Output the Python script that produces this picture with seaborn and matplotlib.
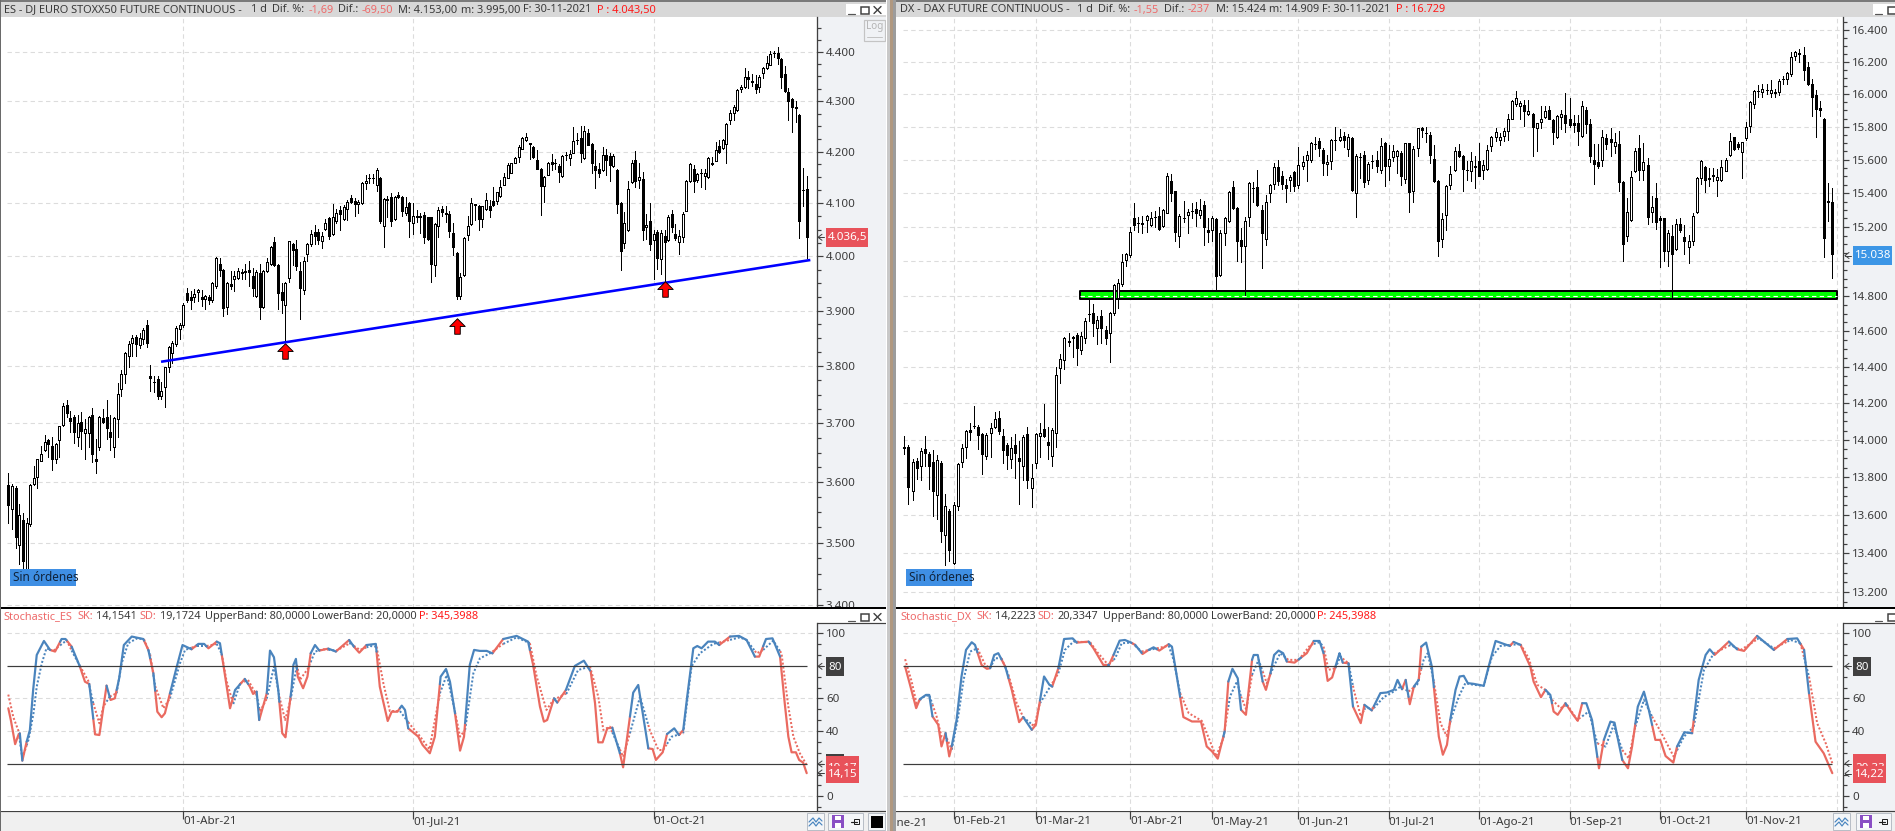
import numpy as np
import pandas as pd
import matplotlib
matplotlib.use("Agg")
import matplotlib.pyplot as plt
import seaborn as sns
from matplotlib.lines import Line2D
from matplotlib.patches import Rectangle
from matplotlib.path import Path
from matplotlib.ticker import FixedLocator, NullFormatter, FuncFormatter

# ---------------------------------------------------------------- price data
es_open = [3596,3556,3590,3496,3538,3455,3530,3597,3608,3636,3654,3672,3662,3639,3671,3698,3732,3709,3712,3677,
           3703,3683,3683,3714,3639,3659,3710,3711,3685,3659,3707,3760,3787,3819,3841,3852,3838,3849,3873,3783,
           3773,3777,3747,3763,3798,3824,3839,3866,3873,3932,3925,3925,3934,3925,3921,3925,3920,3945,3985,3975,
           3906,3948,3957,3959,3969,3971,3974,3964,3927,3969,3907,3972,3986,4026,3983,3934,3911,3959,4023,4013,
           3972,3938,4004,4022,4045,4045,4029,4051,4072,4042,4067,4088,4071,4090,4110,4104,4098,4100,4138,4148,
           4149,4136,4148,4056,4108,4112,4070,4116,4112,4081,4100,4062,4075,4075,4077,4073,4073,3984,4056,4090,
           4081,4080,4044,4006,3927,3965,4040,4061,4098,4095,4070,4090,4094,4104,4105,4113,4136,4149,4159,4178,
           4189,4206,4222,4216,4209,4184,4167,4133,4155,4180,4178,4171,4152,4194,4188,4198,4223,4226,4188,4236,
           4215,4172,4167,4164,4193,4191,4171,4164,4101,4025,4049,4140,4184,4145,4146,4054,4066,4031,4045,3994,
           4038,4031,4079,4041,4026,4037,4086,4142,4166,4145,4159,4152,4151,4177,4182,4211,4208,4215,4262,4277,
           4282,4324,4329,4349,4340,4335,4329,4356,4367,4374,4398,4398,4386,4354,4319,4304,4288,4273,4126,4127]
es_high = [3615,3597,3593,3564,3549,3541,3597,3627,3640,3661,3680,3673,3676,3666,3696,3735,3741,3722,3715,3714,
           3720,3707,3713,3727,3673,3713,3725,3741,3715,3711,3771,3794,3825,3845,3856,3856,3860,3869,3882,3802,
           3782,3783,3773,3799,3836,3845,3872,3877,3914,3942,3936,3940,3939,3938,3929,3929,3952,3999,3996,3976,
           3952,3973,3973,3979,3976,3985,3992,3978,3974,3985,3975,3996,4020,4036,3985,3951,3952,4029,4025,4031,
           3990,3999,4024,4049,4058,4051,4046,4071,4074,4099,4090,4095,4096,4106,4116,4110,4106,4141,4154,4157,
           4157,4168,4150,4110,4113,4120,4114,4122,4114,4112,4103,4100,4087,4081,4084,4074,4074,4062,4092,4095,
           4094,4085,4063,4007,3968,4036,4075,4110,4099,4096,4095,4120,4106,4132,4122,4145,4159,4177,4178,4189,
           4212,4229,4236,4217,4211,4203,4168,4153,4179,4196,4185,4176,4194,4199,4203,4248,4236,4251,4251,4244,
           4216,4203,4177,4209,4206,4198,4195,4166,4103,4083,4143,4184,4201,4177,4161,4079,4100,4049,4049,4049,
           4049,4077,4088,4060,4049,4083,4145,4178,4174,4158,4167,4167,4189,4189,4218,4222,4224,4256,4282,4292,
           4324,4332,4366,4360,4354,4352,4352,4368,4391,4401,4401,4410,4388,4370,4327,4306,4300,4274,4168,4153]
es_low = [3532,3523,3492,3466,3459,3450,3527,3596,3591,3635,3652,3643,3621,3632,3643,3696,3712,3686,3667,3661,
          3656,3639,3660,3634,3616,3655,3700,3674,3655,3643,3677,3747,3770,3799,3819,3819,3833,3839,3835,3757,
          3754,3743,3742,3729,3789,3805,3836,3849,3871,3915,3902,3915,3918,3908,3902,3912,3915,3942,3963,3890,
          3893,3939,3936,3957,3957,3957,3944,3927,3924,3884,3905,3970,3984,3981,3902,3896,3843,3953,3984,3975,
          3884,3930,3991,4019,4022,4023,4016,4049,4033,4039,4062,4049,4069,4069,4100,4076,4081,4099,4127,4139,
          4138,4123,4062,4017,4074,4057,4069,4110,4075,4078,4036,4041,4065,4044,4025,4031,3952,3963,4036,4075,
          4064,4037,4003,3921,3921,3963,4031,4059,4068,4049,4054,4088,4074,4095,4099,4112,4135,4148,4158,4177,
          4179,4205,4220,4186,4188,4166,4078,4103,4154,4164,4167,4140,4151,4183,4173,4197,4215,4179,4186,4212,
          4158,4130,4150,4162,4154,4143,4169,4082,3974,4015,4047,4138,4131,4130,4031,4032,4012,3958,3977,3967,
          3950,4029,4045,4030,4004,4027,4085,4140,4121,4141,4132,4127,4149,4174,4181,4198,4206,4177,4254,4263,
          4281,4318,4327,4327,4331,4316,4319,4346,4365,4373,4390,4376,4327,4319,4263,4238,4258,4034,4094,3996]
es_close = [3562,3594,3509,3545,3470,3533,3596,3607,3639,3647,3668,3665,3639,3665,3696,3731,3718,3705,3686,3700,
            3687,3690,3711,3647,3635,3711,3703,3692,3676,3709,3751,3787,3824,3839,3850,3839,3851,3865,3842,3780,
            3772,3748,3757,3798,3834,3841,3869,3873,3911,3920,3920,3930,3938,3921,3927,3920,3951,3996,3974,3905,
            3950,3945,3964,3973,3970,3972,3971,3942,3970,3907,3973,3990,4018,3984,3932,3919,3951,4028,4011,3981,
            3942,3992,4023,4042,4038,4031,4038,4063,4038,4073,4081,4080,4092,4102,4103,4098,4102,4138,4143,4149,
            4148,4164,4066,4109,4107,4067,4112,4112,4086,4092,4066,4076,4074,4074,4036,4032,3985,4060,4088,4084,
            4080,4047,4017,3927,3961,4035,4057,4100,4097,4070,4094,4106,4088,4097,4121,4132,4151,4174,4177,4188,
            4209,4227,4228,4215,4189,4167,4133,4150,4177,4176,4178,4161,4192,4193,4195,4221,4222,4197,4241,4213,
            4178,4164,4158,4193,4183,4174,4191,4098,4009,4062,4127,4177,4142,4150,4049,4059,4023,4041,3996,4044,
            4027,4074,4054,4035,4038,4079,4143,4176,4143,4156,4158,4159,4187,4176,4204,4199,4223,4255,4277,4289,
            4323,4329,4349,4344,4339,4324,4349,4366,4378,4396,4397,4387,4349,4320,4300,4289,4287,4067,4125,4037]

dx_open = [13960,13962,13725,13885,13860,13950,13925,13880,13705,13875,13495,13620,13350,13645,13880,13960,14055,14076,14070,14030,
           13915,14040,14070,14120,14022,13970,13895,13970,13905,13860,14030,13740,13875,14020,14060,13990,13915,14040,14395,14440,
           14545,14570,14580,14495,14560,14696,14705,14620,14685,14605,14590,14705,14790,14870,15005,15035,15250,15226,15221,15240,
           15210,15261,15265,15205,15285,15475,15412,15150,15251,15270,15296,15305,15270,15330,15185,15185,15245,14920,15165,15235,
           15435,15310,15125,15090,15260,15431,15435,15300,15130,15400,15455,15555,15500,15450,15480,15525,15450,15560,15600,15600,
           15696,15715,15660,15575,15595,15721,15720,15745,15665,15730,15400,15616,15630,15480,15591,15600,15540,15700,15560,15615,
           15625,15640,15485,15700,15410,15670,15790,15763,15750,15605,15475,15130,15270,15450,15540,15655,15625,15541,15530,15565,
           15595,15540,15545,15680,15735,15720,15745,15775,15850,15940,15925,15935,15880,15880,15790,15830,15860,15905,15840,15740,
           15860,15870,15850,15820,15820,15745,15900,15815,15600,15585,15600,15730,15725,15685,15695,15465,15150,15240,15530,15670,
           15540,15570,15290,15370,15250,15250,15060,15150,15070,15215,15140,15080,15120,15290,15490,15555,15490,15506,15480,15480,
           15535,15630,15735,15695,15645,15730,15805,15940,16021,16015,16026,16010,16015,16015,16096,16095,16125,16235,16255,16245,
           16170,16065,15995,15915,15850,15351,15350]
dx_high = [14022,13975,13895,13900,13955,14020,13935,13945,13920,13885,13710,13630,13670,13875,13980,14055,14090,14185,14080,14040,
           14035,14090,14150,14155,14060,13985,14015,14030,13995,14025,14070,13870,14040,14090,14195,14070,14065,14400,14470,14565,
           14590,14575,14590,14595,14675,14775,14755,14685,14720,14630,14710,14870,14895,15040,15050,15200,15340,15260,15265,15270,
           15290,15295,15320,15305,15520,15515,15415,15275,15355,15305,15340,15345,15365,15355,15250,15265,15250,15180,15260,15415,
           15470,15315,15195,15260,15465,15465,15540,15330,15390,15455,15580,15600,15530,15485,15510,15530,15675,15620,15650,15705,
           15735,15730,15670,15630,15725,15800,15785,15765,15755,15735,15635,15640,15650,15585,15630,15655,15730,15705,15690,15690,
           15660,15650,15702,15702,15680,15795,15800,15800,15770,15690,15477,15280,15450,15565,15675,15695,15630,15595,15645,15625,
           15700,15600,15690,15745,15790,15760,15790,15875,15965,16020,15955,15965,15965,15885,15825,15930,15930,15930,15850,15870,
           15900,16010,15975,15870,15870,15955,15920,15845,15695,15695,15780,15755,15795,15760,15775,15470,15370,15530,15670,15750,
           15700,15610,15380,15460,15265,15255,15185,15210,15245,15255,15210,15155,15285,15495,15600,15560,15550,15550,15545,15600,
           15610,15760,15740,15705,15710,15830,15955,16025,16055,16060,16060,16090,16035,16095,16115,16135,16260,16270,16280,16295,
           16200,16095,16025,15955,15855,15460,15430]
dx_low = [13925,13660,13680,13790,13785,13860,13735,13595,13580,13460,13340,13360,13345,13625,13855,13900,14000,14062,13950,13815,
          13895,13910,14062,14030,13875,13845,13850,13795,13660,13785,13740,13640,13850,13910,14015,13895,13860,13960,14310,14390,
          14515,14455,14410,14475,14535,14660,14575,14530,14535,14530,14430,14690,14730,14860,14970,15025,15180,15170,15165,15170,
          15205,15200,15185,15200,15280,15355,15120,15085,15230,15165,15255,15205,15250,15095,15110,15120,14835,14915,15095,15230,
          15305,15000,14997,14805,15205,15350,15325,14960,15095,15350,15425,15450,15425,15350,15415,15415,15430,15545,15470,15585,
          15665,15620,15510,15510,15545,15660,15715,15675,15620,15410,15260,15490,15435,15455,15550,15525,15520,15445,15480,15590,
          15520,15450,15460,15290,15345,15620,15740,15705,15580,15465,15030,15080,15185,15425,15530,15615,15410,15480,15470,15430,
          15500,15485,15540,15655,15715,15690,15715,15720,15845,15925,15845,15805,15870,15625,15655,15795,15855,15845,15695,15730,
          15785,15765,15800,15770,15690,15740,15760,15585,15455,15550,15560,15665,15620,15640,15410,15000,15115,15235,15525,15480,
          15480,15215,15230,15190,14965,15000,14975,14790,15065,15170,15040,14990,15095,15285,15455,15405,15440,15470,15385,15470,
          15530,15620,15660,15665,15490,15720,15770,15915,15985,15985,16000,15985,15985,15995,16060,16060,16115,16210,16200,16090,
          16055,15865,15740,15865,15025,15235,14905]
dx_close = [13955,13750,13880,13850,13940,13930,13860,13725,13890,13515,13645,13415,13650,13870,13955,14050,14045,14075,14025,13925,
            14025,14065,14115,14050,13945,13920,13955,13930,13885,14015,13785,13795,14030,14035,14020,13975,14055,14355,14445,14560,
            14540,14560,14505,14575,14660,14695,14645,14665,14620,14560,14705,14866,14875,14995,15040,15170,15210,15225,15220,15265,
            15250,15260,15190,15300,15505,15400,15170,15265,15250,15290,15295,15285,15300,15200,15170,15255,14915,15165,15255,15405,
            15310,15115,15090,15235,15460,15430,15330,15165,15350,15450,15555,15475,15455,15428,15495,15440,15570,15585,15630,15700,
            15695,15670,15580,15585,15720,15720,15735,15720,15735,15420,15620,15615,15465,15575,15590,15560,15680,15565,15605,15650,
            15650,15500,15700,15405,15665,15790,15782,15762,15630,15475,15120,15245,15445,15515,15650,15620,15545,15540,15595,15555,
            15505,15570,15660,15735,15765,15735,15775,15845,15955,15975,15945,15895,15895,15800,15820,15850,15895,15850,15765,15865,
            15875,15825,15810,15810,15775,15930,15815,15620,15575,15565,15735,15695,15705,15710,15465,15100,15290,15495,15650,15540,
            15585,15260,15320,15230,15240,15060,15165,15045,15215,15185,15120,15120,15265,15490,15595,15480,15485,15505,15495,15555,
            15600,15715,15665,15675,15705,15800,15950,16020,16020,16035,16025,16025,16005,16080,16095,16130,16230,16265,16250,16150,
            16065,15980,15910,15905,15135,15350,15040]

# ---------------------------------------------------------- stochastic readings
es_sk_bar = [0,0.7,1.9,2.8,3.2,3.9,5.1,6,6.9,7.9,9.9,11.6,13,14.8,15.9,17.6,19.9,21.3,22.5,24.1,25.3,27.3,28.4,29.6,30.8,32.1,
             34.3,37.5,38.9,40.3,41.4,42.6,43.5,46.8,48.4,50.9,52.8,54.4,55.6,57.9,58.8,59.9,61.6,63,65.7,67.1,68,69,69.7,71.8,
             72.7,73.8,75,76.1,77,78.7,79.2,79.9,80.4,81.9,83.1,84,85.2,86.4,88.9,91,94.7,96,97.5,99.5,102.1,103.2,105.4,106.5,
             108.1,109.3,110.2,111.1,113.9,115.1,117.1,118.5,120.1,121.6,122.7,124.1,125.5,126.6,128.2,129.4,131,132.9,134.5,
             137.5,141.2,144.4,145.8,147.7,148.8,149.7,151.6,152.5,154.9,157.4,159.9,161.8,163,163.9,165.1,166.4,167.8,169.9,
             170.8,173.6,175,177.8,179,179.9,181.8,183,185,186.3,187.5,188.6,190.3,191.4,192.6,194.4,196.3,197.5,200.5,203,
             205.1,207.4,208.6,210.5,212.3,214.4,215.7,216.7,217.6,218.8,219.7,220.8,221.8]
es_sk_val = [54,46.8,32,37.6,38.6,21.9,33.5,40.7,65.2,86.7,95.3,89.8,88.8,96.5,96.5,91.8,79.5,70.3,68.9,38,37.6,67.9,59.1,60.1,72.4,92.8,
             98,96.5,89.8,75.5,51.9,48.5,50.9,79.5,92.8,90.2,93.5,93.5,90.8,94.9,93.9,78.5,54,65.2,72,67.3,62.8,64.2,46.8,63.2,
             89.4,85.3,65.2,38.7,36.2,66.3,80.6,84.3,73.4,66.3,73.4,87.7,92.8,89.4,90.6,88.8,95.9,91.8,88.1,92.8,93.5,67.3,46.2,51.9,
             51.9,55.6,53,41.7,36.6,31.5,26.4,36.6,73.4,78.1,70.3,50.9,28,36.6,80.6,89.8,89.2,89.2,87.7,
             96.5,98.4,94.9,80.6,55,45.8,46.8,60.1,57.5,65.2,80,83.2,76.5,57.1,33.1,33.1,41.7,42.1,26.4,
             17.8,63.6,68.3,29.4,29,22.3,27,38.2,41.7,37.6,40.7,61.1,90.8,92.2,90.8,94.9,94.9,92.8,98,98.4,
             95.9,85.7,85.7,96.5,96.9,85.7,57.1,36.6,27,27,22.3,20.7,14.2]
es_sd_bar = [0,1.4,2.8,3.9,5.6,7,7.9,9.3,10.6,12.5,14.4,16.2,18,20.4,22.2,23.6,25.3,26.4,28.2,30.1,31.5,33.3,35.7,37.7,39.4,40.8,43.1,
             44.9,47.7,49.1,52.3,55.1,57.9,59.3,60.6,62.5,64.4,66.6,69,69.9,71.8,73.8,75.3,76.9,78.4,80.2,81,83.3,85.2,87.5,91.2,
             94.9,97.7,100.5,102.3,104.2,106,108.8,111.5,114.3,117,119.9,121.8,123.6,125.5,126.9,129.2,131,133.8,137.5,141.2,
             144.9,146.8,149.5,151.4,155.1,158.3,161.6,163.9,165.3,167.1,170.8,172.7,175.5,178.2,180.6,181.9,184.3,187.5,189.8,
             192.1,195.8,198.6,203.2,205.1,207.9,209.7,212.5,214.8,216.7,218.1,219.9,221.8]
es_sd_val = [62.4,48.5,40.3,23.3,34.6,50.9,67.3,81.6,90.8,89.2,92.6,95.7,87.7,78,70.9,57.1,44.8,55,61.2,63.2,81.6,93.9,96.8,96.4,87,67.6,54,
             60.1,81.6,89.8,92.2,92.2,93.5,87.3,71,56.6,69.3,71.4,62,51.9,59.9,79.6,61.1,46.8,59.1,80.6,71.4,78.5,88.8,90.2,89.4,
             93.9,89.8,92.2,91.8,69.3,52.3,52.3,44.3,37,28.8,63.2,74.4,57.1,36.6,40.7,75.5,84.6,87.7,93.5,97.5,
             93.9,73.4,53,59.1,63.2,77.5,79.6,61.1,40.7,42.7,24.3,38.7,61.1,40.7,28.4,28.4,36.6,38.7,79.6,
             87.7,93.5,94.9,97.5,95.9,87.7,89.8,95.5,87.7,55,36.6,26.4,19.2]

dx_sk_bar = [0.2,1.4,2.9,3.8,5.3,6.1,6.9,8.3,9.1,10.1,11,11.6,12.8,14,15.1,16.5,17.3,18.9,20.2,21,22,23,24.7,26.3,28.1,29.1,31.2,32.2,
             34.2,35.5,36.2,37.7,39.1,41.2,42.2,45.1,46.3,48.7,50.1,51.2,52.7,54,55.3,56.5,58.3,59.8,61,62.4,64.7,65.5,66.5,68.3,
             70.4,72.6,74,75.3,76.7,78.4,79.3,80.3,81.6,82.4,83.6,85.1,85.5,86.5,87.7,88.5,89.6,90.5,91.6,92.7,93.6,95.5,97.1,98.5,
             100.2,101.6,102.6,103.6,104.7,106.5,107.3,108.7,109.8,111.7,112.6,114.4,116.5,118.1,119.8,120.7,121.8,122.7,123.7,
             124.7,125.9,126.5,127.7,129.1,130.8,131.8,132.8,133.6,134.9,135.9,136.9,137.9,139.3,141.8,143,144.7,146.7,148.2,
             149.1,150.8,153.2,154,155.8,156.9,158.1,158.9,159.9,161.8,163.4,164.8,165.9,166.9,168.3,170,171.2,172.8,173.8,175.7,
             177.1,178.1,179.5,181,182.2,183.8,185,186.3,188.2,189.1,190.9,192.8,194.4,196.1,197.1,198.3,201.8,203.8,205.5,208.7,
             212.8,216.1,218.5,220.2,221.4,223,225,227.1]
dx_sk_val = [79.6,68.4,54.1,59.6,62.2,62.2,49,43.9,30.6,38.8,24.5,30.6,46.9,73.5,89.8,94.5,92.9,80.6,78.2,78.6,86.7,87.8,79.6,65.3,45.5,48.6,40.8,43.9,
             73.5,68.4,67.3,78.6,96.5,96.9,94.3,94.9,90.8,80.6,80.6,86.7,95.5,95.9,94.5,92.9,87.3,89.8,91.4,89.4,93.3,91.8,76.5,48.6,
             45.9,45.9,30.6,27.6,23.1,39.8,70.4,78.2,72.4,53.1,50,83.7,86.7,86.7,70.4,65.3,75.5,86.7,89.4,87.8,82.7,82,85.1,87.8,
             95.3,95.3,87.8,70.8,72.9,87.8,82,81.6,55.1,44.9,56.1,52.7,63.3,63.7,65.3,71.4,65.7,71.4,56.5,
             67.3,71.4,91.8,94.3,79.6,36.7,25.5,31.6,46.9,65.3,73.5,73.9,69.4,69,67.8,79.6,95.3,93.5,92.2,
             94.7,92.9,79.6,70.4,60.8,65.3,62.2,52,50,57.1,51,46.3,57.1,57.1,46.8,17.2,34.6,45.8,45.2,22.3,
             17.2,30.5,55,64.2,53,34.6,34.6,24.7,20.7,30.5,39.3,38.7,71.4,86.7,90.2,86.7,94.9,90.2,89.2,98.4,
             89.8,96.5,96.9,89.8,63.2,33.5,26.4,14.2]
dx_sd_bar = [0.2,1.8,3,4.6,6.1,7.9,9.1,10.4,11.6,13.2,14.5,16.1,17.9,19.8,21,22.2,23.8,25.5,27.5,29.1,31.8,33.2,35.7,37.7,39.3,41.4,45.5,47.1,
             49.9,51.6,53.2,55.6,58.1,61.8,64.7,65.9,67.5,69.6,72.8,74.5,76.3,78.1,79.7,81.4,82.4,83.7,85.1,86.7,88,88.7,90.4,92,94,
             96.5,99.4,101.6,102.6,103.8,105.5,106.7,108.7,110,111.7,112.8,114.9,117.3,119.8,121.4,123.4,125.5,127.1,128.1,129.6,
             131.2,132.7,134,135.7,137.3,139.3,141.8,143.8,145.9,148.3,150.8,152.8,154.9,156.9,158.5,160.6,162.2,164.7,167.5,169.6,
             171.6,173.6,175.7,177.3,178.9,181,183,185.1,188.3,190.8,193.2,195.7,198.1,202.2,204.7,209.1,212.8,216.9,219.3,221.4,
             223.4,225.5,227.1]
dx_sd_val = [84.1,70.4,57.1,60.8,62.2,49,36.7,35.7,28.6,49,71.4,88.8,90.8,80.6,78.6,84.7,84.7,74.5,57.1,48.6,42.9,57.1,67.3,75.5,89.8,94.9,94.5,88.8,
             80.6,84.7,93.9,94.3,88.8,90.8,92.4,83.7,63.3,51,46.3,35.7,24.5,35.7,61.2,70.4,61.2,53.1,74.5,83.7,74.5,69.4,79.6,87.8,83.7,
             83.7,92.9,94.5,91.8,77.6,78.6,85.7,81.6,65.3,49,54.1,54.1,60.8,64.3,67.3,64.3,68.4,83.7,87.8,70.4,
             44.9,37.1,48.9,61.2,69.4,68.4,67.8,85.7,92.2,92.9,93.3,84.7,68.4,65.3,59.2,54.1,56.1,46.9,52,32.5,
             30.5,43.8,28.4,23.3,42.7,59.1,48.9,39.7,24.3,36.6,42.7,77.5,87.7,92.8,89.8,96.9,90.8,95.9,93.9,73.4,
             44.8,32.5,20.3]

# ------------------------------------------------------------ annotations, ticks
es_trend_bar = [41.9, 220]
es_trend_price = [3808, 3993]
es_arrow_bar = [76, 123, 180]
es_arrow_price = [3827, 3872, 3939]
dx_zone_bar = [42.8, 227.2]
dx_zone_price = [14783, 14829]
zone_level = 14800

es_date_bar = [48, 111, 177]
es_date_text = ["01-Abr-21", "01-Jul-21", "01-Oct-21"]
dx_date_bar = [12, 32, 55, 75, 96, 118, 140, 162, 184, 205]
dx_date_text = ["01-Feb-21", "01-Mar-21", "01-Abr-21", "01-May-21", "01-Jun-21",
                "01-Jul-21", "01-Ago-21", "01-Sep-21", "01-Oct-21", "01-Nov-21"]
es_levels = [3400, 3500, 3600, 3700, 3800, 3900, 4000, 4100, 4200, 4300, 4400]
dx_levels = list(range(13200, 16401, 200))

for a in (es_open, es_high, es_low, es_close):
    assert len(a) == 220
for a in (dx_open, dx_high, dx_low, dx_close):
    assert len(a) == 227

# ------------------------------------------------------------------ page set-up
W, H = 1895, 831
sns.set_theme(style="white")
plt.rcParams["font.family"] = ["Noto Sans", "DejaVu Sans"]
fig = plt.figure(figsize=(W / 100, H / 100), dpi=100, facecolor="#f0f0f0")

GUTTER = "#f0f2f5"
TXT = "#3a3a3a"
SOFT_RED = "#ee6a6a"
HOT_RED = "#ff1a1a"
FS = 7.9
FS_SCALE = 8.3
PT = 0.72  # points per pixel at this dpi


def box(x0, y0, x1, y1, fc, ec="none", z=1, lw=0.0):
    r = Rectangle((x0 / W, 1 - y1 / H), (x1 - x0) / W, (y1 - y0) / H, transform=fig.transFigure,
                  facecolor=fc, edgecolor=ec, linewidth=lw, zorder=z)
    fig.add_artist(r)
    return r


def label(x, y, s, color=TXT, z=6, size=FS, ha="left", **kw):
    return fig.text(x / W, 1 - y / H, s, color=color, fontsize=size, va="center", ha=ha, zorder=z, **kw)


def stroke(xs, ys, color="black", lw=1.0, z=6):
    fig.add_artist(Line2D([x / W for x in xs], [1 - y / H for y in ys], transform=fig.transFigure,
                          color=color, linewidth=lw * PT, zorder=z))


def panel_axes(x0, y0, x1, y1, z):
    ax = fig.add_axes([x0 / W, 1 - y1 / H, (x1 - x0) / W, (y1 - y0) / H], zorder=z)
    ax.set_facecolor("white")
    for s in ax.spines.values():
        s.set_visible(False)
    ax.spines["right"].set_visible(True)
    ax.spines["right"].set_color("#404040")
    ax.spines["right"].set_linewidth(1.3 * PT)
    return ax


def draw_candles(ax, o, h, l, c, bar_w):
    frame = pd.DataFrame({"o": o, "h": h, "l": l, "c": c})
    frame["bar"] = np.arange(len(frame))
    ax.vlines(frame.bar, frame.l, frame.h, color="black", linewidth=1.0 * PT, zorder=3, antialiased=False)
    up = frame[frame.c >= frame.o]
    down = frame[frame.c < frame.o]
    ax.bar(up.bar, up.c - up.o, bottom=up.o, width=bar_w, facecolor="white", edgecolor="black",
           linewidth=1.0 * PT, zorder=4, antialiased=False)
    ax.bar(down.bar, down.o - down.c, bottom=down.c, width=bar_w, facecolor="black", edgecolor="black",
           linewidth=1.0 * PT, zorder=4, antialiased=False)


def draw_stochastic(ax, sk_bar, sk_val, sd_bar, sd_val, last_bar):
    """Both curves turn blue while SK holds above SD and red while it is below."""
    sk_x = np.asarray(sk_bar) * last_bar / sk_bar[-1]
    sd_x = np.asarray(sd_bar) * last_bar / sd_bar[-1]
    x = np.unique(np.concatenate([sk_x, sd_x]))
    sk = np.interp(x, sk_x, sk_val)
    sd = np.interp(x, sd_x, sd_val)
    side = np.where(sk >= sd, "up", "down")
    rows = []
    run = 0
    for i in range(len(x) - 1):
        if i and side[i] != side[i - 1]:
            run += 1
        rows.append((x[i], sk[i], sd[i], side[i], run))
        rows.append((x[i + 1], sk[i + 1], sd[i + 1], side[i], run))
    frame = pd.DataFrame(rows, columns=["bar", "sk", "sd", "side", "run"])
    palette = {"up": "#4a84bd", "down": "#ea6a60"}
    sns.lineplot(data=frame, x="bar", y="sd", hue="side", palette=palette, units="run", estimator=None,
                 sort=False, ax=ax, legend=False, linewidth=2.0 * PT, linestyle=(0, (1.0, 1.0)), zorder=3)
    sns.lineplot(data=frame, x="bar", y="sk", hue="side", palette=palette, units="run", estimator=None,
                 sort=False, ax=ax, legend=False, linewidth=2.2 * PT, zorder=4)
    ax.set_xlabel("")
    ax.set_ylabel("")


def dashed_grid(ax, xs, ys, x_from):
    grid = dict(color="#dcdcdc", linewidth=1.1 * PT, linestyle=(0, (4, 3)), zorder=1)
    for v in xs:
        ax.axvline(v, **grid)
    for v in ys:
        ax.axhline(v, xmin=x_from, **grid)


# upward block arrow used to flag the trend-line touches
arrow_path = Path([(-0.36, -1.0), (0.36, -1.0), (0.36, 0.0), (1.0, 0.0), (0.0, 1.0), (-1.0, 0.0), (-0.36, 0.0), (-0.36, -1.0)],
                  closed=True)


def window_controls(x, y):
    box(x, y - 6, x + 40, y + 5, "white", z=5)
    stroke([x + 2, x + 9], [y + 3.5, y + 3.5], "#555555", 1.2)
    box(x + 15, y - 3.5, x + 23, y + 3.5, "none", ec="#404040", z=6, lw=1.5 * PT)
    stroke([x + 28, x + 35], [y - 3.5, y + 3.5], "#404040", 1.4)
    stroke([x + 28, x + 35], [y + 3.5, y - 3.5], "#404040", 1.4)


def back_arrow(x, y):
    stroke([x + 4, x, x + 4], [y - 3, y, y + 3], "#404040", 1.0, z=7)
    stroke([x, x + 6], [y, y], "#404040", 1.0, z=7)


def build_window(x0, x_axis, right, o, h, l, c, first_px, last_px, levels, minor_step, y_lim,
                 dates, date_text, extra_grid, grid_from, title_parts, stoch_parts,
                 sk_bar, sk_val, sd_bar, sd_val):
    n = len(o)
    step = (last_px - first_px) / (n - 1)
    x_lim = ((x0 - first_px) / step, (x_axis - first_px) / step)

    # frame pieces
    box(x0 - 1, 0, right, 17, "#d8d8d8", z=1)
    box(x0 - 1, 0, right, 2, "#7a7a7a", z=2)
    box(x_axis, 17, right, 608, GUTTER, z=-1)
    for x, t, col in title_parts:
        label(x, 10, t, color=col)

    # price panel
    ax = panel_axes(x0, 17, x_axis, 608, 1)
    ax.set_yscale("log")
    ax.set_ylim(*y_lim)
    ax.set_xlim(*x_lim)
    dashed_grid(ax, list(dates) + extra_grid, levels, grid_from / (x_axis - x0))
    draw_candles(ax, o, h, l, c, 2.0 / step)
    ax.yaxis.tick_right()
    ax.yaxis.set_major_locator(FixedLocator(levels))
    minors = np.arange(levels[0] - 2 * minor_step, levels[-1] + 3 * minor_step, minor_step)
    ax.yaxis.set_minor_locator(FixedLocator([m for m in minors if m not in levels]))
    ax.yaxis.set_minor_formatter(NullFormatter())
    ax.yaxis.set_major_formatter(FuncFormatter(lambda v, _: f"{int(v):,}".replace(",", ".")))
    ax.tick_params(axis="y", which="major", length=6 * PT, width=1.2 * PT, color="#404040", pad=3 * PT,
                   labelsize=FS_SCALE, labelcolor=TXT, right=True)
    ax.tick_params(axis="y", which="minor", length=4 * PT, width=1.2 * PT, color="#404040", right=True)
    ax.set_xticks([])
    ax.set_xlabel("")
    ax.set_ylabel("")
    box(first_px + 1.5, 569.3, first_px + 67.5, 585.7, "#3f8fe4", z=5)
    label(first_px + 5, 577.5, "Sin órdenes", color="#10233a", z=6, size=8.5)

    # everything below the price panel sits on a clean sheet
    box(x0 - 1, 608, right, 831, "white", z=2)
    box(x0 - 1, 607, right, 609, "black", z=3)
    box(x_axis, 623, right, 811, GUTTER, z=2.5)
    stroke([x_axis, right], [623, 623], "#404040", 1.2, z=3)
    for x, t, col in stoch_parts:
        label(x, 616.5, t, color=col)

    # oscillator panel
    st = panel_axes(x0, 623, x_axis, 811, 3)
    st.set_xlim(*x_lim)
    st.set_ylim((796.3 - 811) / 1.63, (796.3 - 623) / 1.63)
    dashed_grid(st, list(dates) + extra_grid, [0, 40, 60, 100], grid_from / (x_axis - x0))
    draw_stochastic(st, sk_bar, sk_val, sd_bar, sd_val, n - 1)
    for lvl in (80, 20):
        st.hlines(lvl, (x0 + grid_from - first_px) / step, n - 1, color="#3c3c3c", linewidth=1.2 * PT, zorder=5)
    st.yaxis.tick_right()
    st.yaxis.set_major_locator(FixedLocator([0, 20, 40, 60, 80, 100]))
    st.yaxis.set_minor_locator(FixedLocator([v / 3 for v in range(-20, 340, 20) if v % 60]))
    st.yaxis.set_minor_formatter(NullFormatter())
    st.yaxis.set_major_formatter(FuncFormatter(lambda v, _: "" if v in (20, 80) else f"{int(v)}"))
    st.tick_params(axis="y", which="major", length=6 * PT, width=1.2 * PT, color="#404040", pad=3 * PT,
                   labelsize=FS_SCALE, labelcolor=TXT, right=True)
    st.tick_params(axis="y", which="minor", length=4 * PT, width=1.2 * PT, color="#404040", right=True)
    st.set_xticks(dates, labels=date_text)
    st.tick_params(axis="x", length=8 * PT, width=1.2 * PT, color="#404040", pad=-2.5 * PT, bottom=True,
                   labelsize=FS_SCALE, labelcolor=TXT)
    for tl in st.get_xticklabels():
        tl.set_ha("left")
    box(x0 - 1, 811, right, 831, "#f0f0f0", z=2.6)
    stroke([x0 - 1, right], [811, 811], "#404040", 1.2, z=3)
    return ax, st, step


# ------------------------------------------------------------------ left window
es_title = [(4, "ES - DJ EURO STOXX50 FUTURE CONTINUOUS -", TXT), (251, "1 d", TXT), (272, "Dif. %:", TXT),
            (308.7, "-1,69", SOFT_RED), (338, "Dif.:", TXT), (362, "-69,50", SOFT_RED), (398, "M: 4.153,00", TXT),
            (461, "m: 3.995,00", TXT), (523, "F: 30-11-2021", TXT), (597, "P : 4.043,50", HOT_RED)]
es_stoch = [(4, "Stochastic_ES", SOFT_RED), (78, "SK:", SOFT_RED), (96, "14,1541", TXT), (140, "SD:", SOFT_RED),
            (160, "19,1724", TXT), (204.7, "UpperBand: 80,0000", TXT), (312, "LowerBand: 20,0000", TXT),
            (419, "P: 345,3988", HOT_RED)]
ax_es, st_es, es_step = build_window(1, 817, 886, es_open, es_high, es_low, es_close, 8.3, 806.7, es_levels, 25,
                                     (3395, 4472), es_date_bar, es_date_text, [], 6, es_title, es_stoch,
                                     es_sk_bar, es_sk_val, es_sd_bar, es_sd_val)
ax_es.plot(es_trend_bar, es_trend_price, color="#0000ff", linewidth=2.6 * PT, zorder=6, solid_capstyle="butt")
ax_es.plot(es_arrow_bar, es_arrow_price, linestyle="none", marker=arrow_path, markersize=15.5 * PT,
           markerfacecolor="#ff0000", markeredgecolor="black", markeredgewidth=0.9 * PT, zorder=7)

# last-price tag and scale helpers
box(826, 228, 868, 246.7, "#e8525a", z=5)
label(828, 238, "4.036,5", color="white", size=FS_SCALE)
back_arrow(818, 237.3)
box(864, 20, 885, 40.7, GUTTER, ec="#c4c4c4", z=5, lw=1.2 * PT)
label(874.5, 27, "Log", color="#b4b4b4", z=6, size=7.2, ha="center", fontweight="bold")
stroke([867, 882], [37, 37], "#c4c4c4", 1.0)

# oscillator tags
box(826, 657, 844, 676, "#404040", z=5)
label(828, 667, "80", color="white", size=FS_SCALE)
back_arrow(818, 666.3)
box(826, 754, 844, 760, "#404040", z=5)
box(826, 756, 859, 782.7, "#e8525a", z=5)
label(828, 768, "19,17", color="white", size=FS_SCALE)
box(826, 766, 859, 782.7, "#e8525a", z=6.5)
label(828, 775, "14,15", color="white", size=FS_SCALE, z=7)
back_arrow(818, 764)
back_arrow(818, 773)

# ----------------------------------------------------------------- right window
dx_title = [(900, "DX - DAX FUTURE CONTINUOUS -", TXT), (1077, "1 d", TXT), (1098, "Dif. %:", TXT),
            (1134, "-1,55", SOFT_RED), (1164, "Dif.:", TXT), (1188, "-237", SOFT_RED), (1216, "M: 15.424", TXT),
            (1269, "m: 14.909", TXT), (1322, "F: 30-11-2021", TXT), (1396, "P : 16.729", HOT_RED)]
dx_stoch = [(900.7, "Stochastic_DX", SOFT_RED), (976.7, "SK:", SOFT_RED), (995, "14,2223", TXT), (1038, "SD:", SOFT_RED),
            (1058, "20,3347", TXT), (1102.7, "UpperBand: 80,0000", TXT), (1210.7, "LowerBand: 20,0000", TXT),
            (1317, "P: 245,3988", HOT_RED)]
ax_dx, st_dx, dx_step = build_window(896, 1843, 1895, dx_open, dx_high, dx_low, dx_close, 904.3, 1832.3, dx_levels, 50,
                                     (13120, 16484), dx_date_bar, dx_date_text, [227.2], 7, dx_title, dx_stoch,
                                     dx_sk_bar, dx_sk_val, dx_sd_bar, dx_sd_val)
ax_dx.fill_between(dx_zone_bar, dx_zone_price[0], dx_zone_price[1], facecolor="#00ff00", edgecolor="black",
                   linewidth=2.0 * PT, zorder=2)
ax_dx.hlines(zone_level, dx_zone_bar[0], dx_zone_bar[1], color="white", linewidth=1.1 * PT,
             linestyle=(0, (4, 3)), zorder=2.5)

box(1853, 246, 1892, 265, "#3c96e6", z=5)
label(1855, 256, "15.038", color="white", size=FS_SCALE)
back_arrow(1845, 255.5)

box(1853, 657, 1871, 676, "#404040", z=5)
label(1855, 667, "80", color="white", size=FS_SCALE)
back_arrow(1845, 666.3)
box(1853, 754, 1886, 782.7, "#e8525a", z=5)
label(1855, 768, "20,33", color="white", size=FS_SCALE)
box(1853, 766, 1886, 782.7, "#e8525a", z=6.5)
label(1855, 775, "14,22", color="white", size=FS_SCALE, z=7)
back_arrow(1845, 763.5)
back_arrow(1845, 773.5)

# the January label is cut off by the window border
ene = label(873, 823.5, "01-Ene-21", size=FS_SCALE)
ene.set_clip_path(Rectangle((896 / W, 0), 1 - 896 / W, 1, transform=fig.transFigure))
ene.set_clip_on(True)

# window separators
box(0, 0, 1.3, 831, "#6a6a6a", z=8)
box(886, 0, 887, 831, "white", z=8)
box(887, 0, 890, 831, "#c8c8c8", z=8)
box(890, 0, 893, 831, "#b09880", z=8)
box(893, 0, 896, 831, "#9c9c9c", z=8)

for wx in (846, 1873):
    window_controls(wx, 10)
    window_controls(wx, 617)


def toolbar(x_zig, x_save, x_end, black_box):
    box(x_zig, 813, x_zig + 17, 830, "#f4f6f8", ec="#b8bec6", z=5, lw=1.0 * PT)
    stroke(np.array([2, 6, 9, 12, 15]) + x_zig, [822, 818, 822, 818, 821], "#4a86c0", 1.2)
    stroke(np.array([2, 6, 9, 12, 15]) + x_zig, [826, 822, 826, 822, 825], "#4a86c0", 1.2)
    box(x_save, 813, x_end, 830, "#f4f6f8", ec="#b8bec6", z=5, lw=1.0 * PT)
    box(x_save + 4, 815, x_save + 16, 828, "#8a4fc4", z=6)
    box(x_save + 7, 816, x_save + 13, 820, "white", z=6.5)
    box(x_save + 7, 823, x_save + 13, 828, "white", z=6.5)
    stroke([x_save + 23, x_save + 29], [821.5, 821.5], "#202020", 1.2)
    box(x_save + 26, 819, x_save + 31, 824, "none", ec="#202020", z=6, lw=1.0 * PT)
    if black_box:
        box(x_end + 5, 813, x_end + 22, 830, "#f4f6f8", ec="#b8bec6", z=5, lw=1.0 * PT)
        box(x_end + 8, 815.5, x_end + 20, 827.5, "black", z=6)


toolbar(807, 828, 863, True)
toolbar(1833, 1856, 1891, False)

fig.savefig("out.png", dpi=100, facecolor=fig.get_facecolor())
